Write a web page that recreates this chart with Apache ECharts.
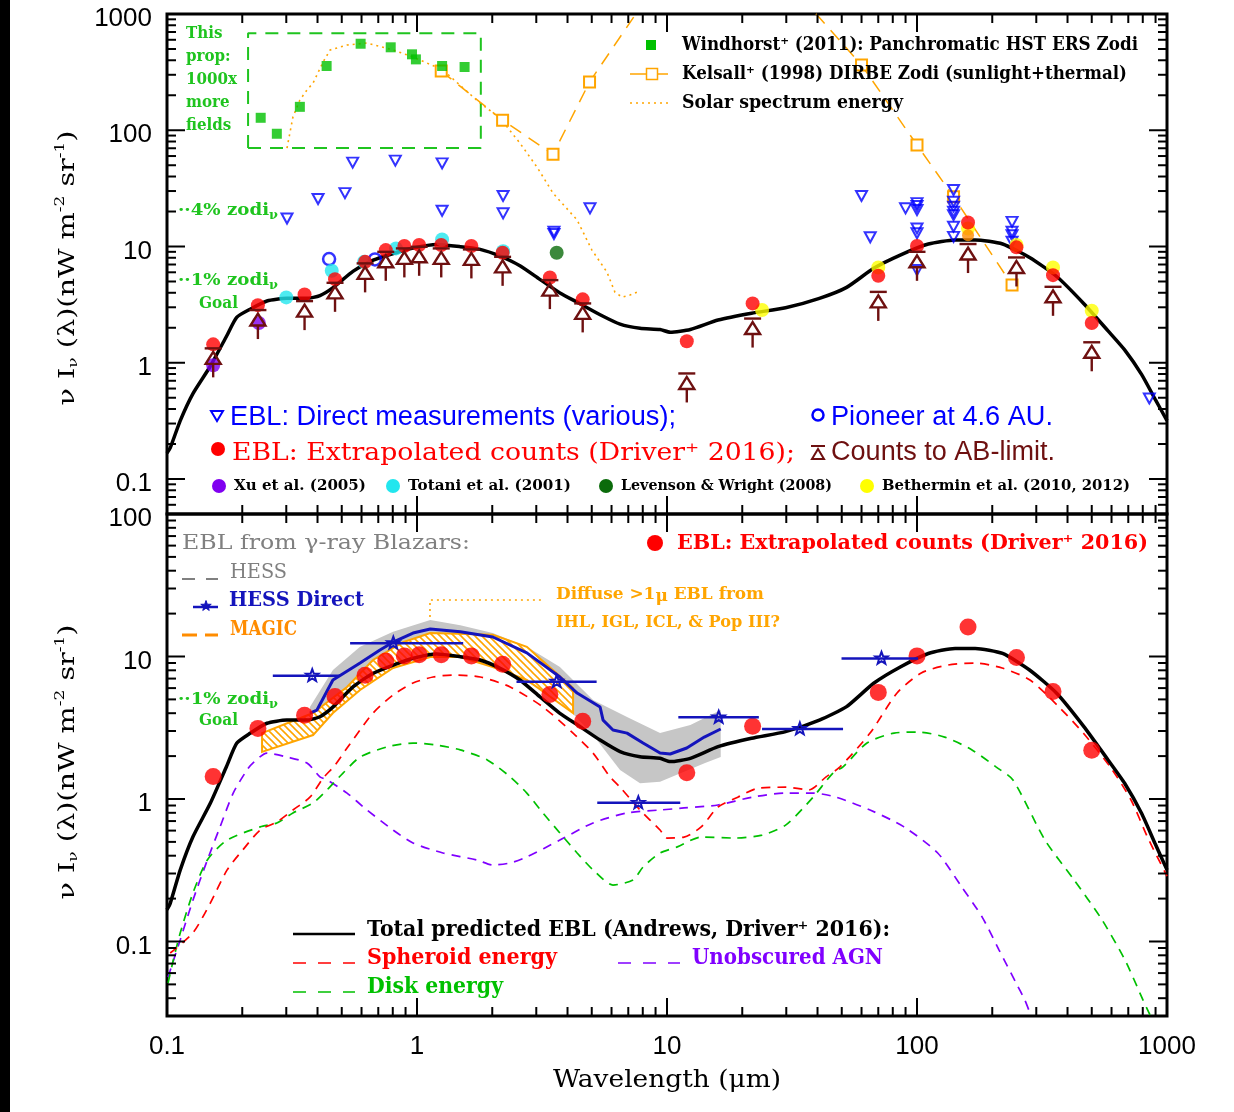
<!DOCTYPE html>
<html>
<head>
<meta charset="utf-8">
<title>EBL</title>
<script src="https://cdn.jsdelivr.net/npm/echarts@6.0.0/dist/echarts.min.js"></script>
<style>
html, body { margin: 0; padding: 0; background: #fff; }
#chart { width: 1234px; height: 1112px; }
</style>
</head>
<body>
<div id="chart"></div>
<script>
// ---------------- top panel ----------------
// Windhorst+ (2011) HST ERS zodi
var windhorstLam = [0.237, 0.275, 0.340, 0.435, 0.595, 0.785, 0.955, 0.99, 1.26, 1.55];
var windhorstVal = [128, 93.3, 159, 357, 555, 517, 450, 407, 357, 350];
// Kelsall+ (1998) DIRBE zodi
var kelsallLam = [1.25, 2.2, 3.5, 4.9, 12, 25, 60, 100, 140, 240];
var kelsallVal = [323, 122, 62.1, 260, 4430, 3020, 364, 74.6, 26.8, 4.66];
// solar spectrum energy
var solarLam = [0.302, 0.319, 0.340, 0.363, 0.384, 0.421, 0.449, 0.525, 0.631, 0.802, 0.964, 1.27, 1.79, 2.15, 2.58, 3.02, 3.50, 4.37, 5.01, 5.75, 6.19, 6.61, 7.11, 7.59];
var solarVal = [70.3, 130, 182, 222, 255, 386, 490, 541, 563, 490, 427, 330, 171, 127, 77.6, 48.2, 28.8, 16.9, 9.31, 6.03, 4.05, 3.67, 3.82, 4.05];
// "this proposal" box corners
var boxLam = [0.211, 0.211, 1.80, 1.80, 0.211];
var boxVal = [70.3, 682, 682, 70.3, 70.3];
// EBL direct measurements (upper limits)
var directLam = [0.302, 0.402, 0.515, 0.553, 0.819, 1.26, 1.26, 2.21, 2.21, 3.53, 3.53, 4.92, 60, 65, 90, 100, 100, 100, 100, 100, 100, 140, 140, 140, 140, 140, 140, 140, 240, 240, 240, 240, 850];
var directVal = [17.4, 25.6, 28.8, 52.7, 54.8, 51.9, 20.3, 27.2, 19.3, 13.4, 12.8, 21.3, 27.2, 12.0, 21.3, 23.6, 22.3, 20.6, 14.3, 13.0, 6.27, 30.6, 24.3, 22.0, 19.9, 18.6, 14.8, 12.1, 16.3, 13.4, 12.5, 11.0, 0.493];
var pioneerLam = [0.445, 0.679];
var pioneerVal = [7.8, 7.74];
var totaniLam = [0.30, 0.456, 0.614, 0.824, 1.26, 2.21];
var totaniVal = [3.65, 6.18, 7.38, 9.63, 11.5, 9.12];
var xuLam = [0.153, 0.233];
var xuVal = [0.953, 2.2];
var levensonLam = [3.62];
var levensonVal = [8.83];
var bethLam = [24, 70, 160, 250, 350, 500];
var bethVal = [2.84, 6.6, 14.3, 10.3, 6.6, 2.8];
var orangeDotLam = [160];
var orangeDotVal = [12.5];
// Driver+ 2016 extrapolated counts, and counts to AB-limit
var driverLam = [0.153, 0.231, 0.355, 0.47, 0.62, 0.75, 0.89, 1.02, 1.25, 1.65, 2.2, 3.4, 4.6, 12, 22, 70, 100, 160, 250, 350, 500];
var driverVal = [1.44, 3.13, 3.87, 5.24, 7.38, 9.31, 10.1, 10.3, 10.3, 10.1, 8.83, 5.42, 3.51, 1.53, 3.24, 5.6, 10.1, 16.1, 9.83, 5.67, 2.2];
var abVal = [1.33, 2.84, 3.39, 4.87, 7.16, 9.0, 9.63, 9.94, 9.63, 9.44, 8.15, 5.14, 3.24, 0.809, 2.40, 4.07, 9.0, 10.5, 8.05, 4.50, 1.50];

// ---------------- model curves (both panels) ----------------
var totalLam = [0.1, 0.103, 0.113, 0.127, 0.149, 0.173, 0.190, 0.215, 0.251, 0.301, 0.362, 0.409, 0.463, 0.556, 0.668, 0.804, 0.966, 1.20, 1.49, 1.79, 2.15, 2.58, 3.10, 3.73, 4.49, 5.40, 6.49, 7.80, 9.38, 10.3, 12.4, 16.0, 21.8, 29.8, 40.7, 52.3, 67.1, 86.1, 111, 142, 171, 220, 282, 362, 465, 581, 677, 791, 895, 1000];
var totalVal = [0.167, 0.185, 0.318, 0.543, 0.933, 1.69, 2.46, 2.89, 3.40, 3.58, 3.58, 3.78, 4.45, 6.14, 7.62, 8.71, 9.71, 10.4, 9.97, 9.45, 8.26, 6.84, 5.22, 3.99, 3.22, 2.59, 2.15, 1.98, 1.93, 1.83, 1.93, 2.33, 2.67, 2.97, 3.58, 4.45, 6.49, 8.48, 10.5, 11.4, 11.4, 10.5, 8.04, 5.52, 3.22, 1.88, 1.29, 0.794, 0.489, 0.318];
var spheroidLam = [0.103, 0.127, 0.149, 0.174, 0.201, 0.236, 0.275, 0.319, 0.373, 0.421, 0.470, 0.525, 0.592, 0.667, 0.802, 0.964, 1.16, 1.39, 1.79, 2.36, 3.19, 4.21, 5.06, 5.92, 6.49, 7.80, 9.38, 10.0, 11.7, 13.7, 16.0, 19.2, 23.1, 29.9, 37.0, 43.3, 49.2, 64.9, 83.2, 104, 133, 171, 219, 283, 363, 466, 597, 718, 839, 1000];
var spheroidVal = [0.083, 0.115, 0.186, 0.318, 0.439, 0.606, 0.690, 0.837, 1.03, 1.40, 1.73, 2.28, 3.05, 4.01, 5.37, 6.52, 7.18, 7.41, 7.18, 6.11, 4.42, 2.90, 2.10, 1.43, 1.21, 0.837, 0.606, 0.532, 0.540, 0.637, 0.879, 1.03, 1.19, 1.21, 1.16, 1.43, 1.68, 2.90, 5.54, 7.66, 8.71, 9.00, 8.30, 6.84, 4.57, 2.86, 1.65, 0.984, 0.532, 0.288];
var diskLam = [0.101, 0.106, 0.113, 0.127, 0.145, 0.174, 0.236, 0.275, 0.319, 0.384, 0.437, 0.506, 0.592, 0.759, 0.964, 1.20, 1.49, 1.91, 2.36, 2.75, 3.19, 3.73, 4.37, 5.06, 6.08, 7.31, 8.02, 9.38, 11.0, 13.7, 18.7, 24.0, 29.9, 38.4, 46.1, 50.6, 63.1, 80.9, 101, 129, 166, 207, 242, 325, 425, 544, 679, 802, 855];
var diskVal = [0.0512, 0.0741, 0.115, 0.219, 0.373, 0.515, 0.637, 0.679, 0.798, 0.938, 1.16, 1.52, 1.97, 2.32, 2.47, 2.39, 2.21, 1.88, 1.43, 1.10, 0.798, 0.577, 0.418, 0.318, 0.249, 0.270, 0.333, 0.418, 0.461, 0.541, 0.532, 0.558, 0.658, 1.03, 1.52, 1.68, 2.47, 2.90, 2.95, 2.72, 2.21, 1.68, 1.36, 0.515, 0.270, 0.146, 0.0741, 0.0388, 0.0305];
var agnLam = [0.101, 0.113, 0.127, 0.145, 0.163, 0.184, 0.209, 0.221, 0.251, 0.302, 0.363, 0.409, 0.437, 0.525, 0.631, 0.802, 0.964, 1.27, 1.74, 2.01, 2.36, 2.75, 3.73, 5.06, 6.92, 9.38, 11.7, 16.0, 21.9, 29.9, 38.4, 47.4, 64.9, 88.7, 121, 151, 182, 213, 249, 270, 283];
var agnVal = [0.0564, 0.103, 0.195, 0.373, 0.637, 1.10, 1.60, 1.79, 2.10, 1.97, 1.79, 1.43, 1.36, 1.10, 0.837, 0.606, 0.491, 0.418, 0.373, 0.344, 0.356, 0.392, 0.515, 0.679, 0.798, 0.837, 0.865, 0.908, 1.03, 1.10, 1.10, 1.03, 0.837, 0.637, 0.418, 0.241, 0.149, 0.0871, 0.0512, 0.0388, 0.0315];

// ---------------- bottom panel: gamma-ray blazar constraints ----------------
var hessHiLam = [0.373, 0.461, 0.592, 0.802, 1.13, 1.49, 2.01, 2.75, 3.73, 5.06, 6.92, 9.38, 12.4, 16.4];
var hessHiVal = [4.42, 8.04, 11.7, 14.9, 18.0, 16.6, 14.6, 11.7, 8.44, 4.95, 3.76, 2.90, 3.30, 4.21];
var hessLoLam = [0.373, 0.461, 0.592, 0.802, 1.13, 1.49, 2.01, 2.75, 3.73, 5.06, 6.49, 7.80, 9.38, 11.7, 14.2, 16.4];
var hessLoVal = [3.47, 4.95, 6.84, 8.71, 10.3, 9.75, 8.44, 6.62, 4.95, 2.81, 1.60, 1.29, 1.32, 1.55, 1.79, 1.97];
var hessLam = [0.373, 0.398, 0.461, 0.592, 0.711, 0.802, 0.964, 1.13, 1.49, 2.01, 2.75, 3.73, 4.37, 5.40, 5.55, 6.08, 6.92, 8.02, 9.38, 10.3, 12.0, 14.1, 16.4];
var hessVal = [4.01, 4.21, 6.84, 9.00, 11.1, 12.6, 14.6, 15.6, 14.9, 13.7, 10.6, 7.18, 5.54, 4.42, 3.58, 3.05, 2.90, 2.47, 2.10, 2.07, 2.28, 2.72, 3.10];
var magicHiLam = [0.240, 0.384, 0.525, 0.667, 0.879, 1.13, 2.01, 2.75, 4.21];
var magicHiVal = [2.90, 4.01, 6.11, 9.45, 12.6, 14.6, 14.2, 11.7, 6.01];
var magicLoLam = [0.240, 0.384, 0.461, 0.592, 0.802, 1.13, 1.49, 2.01, 2.75, 4.21];
var magicLoVal = [2.14, 2.81, 4.01, 5.82, 8.30, 9.92, 9.92, 8.44, 6.84, 4.01];
// HESS direct points with wavelength ranges
var hdLam = [0.381, 0.804, 3.62, 7.68, 16.1, 34.0, 72.1];
var hdVal = [7.33, 12.4, 6.65, 0.94, 3.74, 3.1, 9.7];
var hdLo = [0.265, 0.54, 2.5, 5.26, 11.1, 24, 49.9];
var hdHi = [0.492, 1.53, 5.23, 11.3, 23.3, 50.6, 101];
// dotted pointer for the "Diffuse >1 micron" note
var diffLam = [1.127, 1.127, 3.19];
var diffVal = [18.9, 24.9, 24.9];

var SERIF = '"DejaVu Serif", serif';
var SANS = '"Liberation Sans", Arial, sans-serif';
var GREEN = '#1fc41f';
var ORANGE = '#ffa500';
var MAROON = '#6e1010';
var HBLUE = '#1414bc';

function pairs(a, b) {
    return a.map(function (x, i) { return [x, b[i]]; });
}

var mctx = document.createElement('canvas').getContext('2d');
function textWidth(s, font) {
    mctx.font = font;
    return mctx.measureText(s).width;
}

// text built from pieces [string, size, dy], optionally squeezed to a width
function pieceText(x, y, pieces, color, o) {
    o = o || {};
    var weight = o.weight || 'bold', fam = o.family || SERIF;
    var kids = [], cum = 0;
    pieces.forEach(function (p) {
        var font = weight + ' ' + p[1] + 'px ' + fam;
        kids.push({type: 'text', x: cum, y: p[2] || 0, z: 100, silent: true,
            style: {text: p[0], fill: color, font: font, align: 'left', verticalAlign: 'middle'}});
        cum += textWidth(p[0], font);
    });
    var sx = o.w ? o.w / cum : 1;
    if (o.center) kids.forEach(function (k) { k.x -= cum / 2; });
    return {type: 'group', x: x, y: y, rotation: o.rotation || 0, scaleX: sx, z: 100, children: kids};
}
function txt(x, y, s, color, size, o) {
    return pieceText(x, y, [[s, size, 0]], color, o);
}
function ln(x1, y1, x2, y2, color, w, dash) {
    return {type: 'line', z: 100, silent: true, shape: {x1: x1, y1: y1, x2: x2, y2: y2},
        style: {stroke: color, lineWidth: w, lineDash: dash || null}};
}
function dot(cx, cy, r, color) {
    return {type: 'circle', z: 100, silent: true, shape: {cx: cx, cy: cy, r: r}, style: {fill: color}};
}
function starPts(cx, cy, R, r) {
    var pts = [];
    for (var i = 0; i < 10; i++) {
        var rr = i % 2 ? r : R, a = -Math.PI / 2 + i * Math.PI / 5;
        pts.push([cx + rr * Math.cos(a), cy + rr * Math.sin(a)]);
    }
    return pts;
}
function decade(v) {
    var lg = Math.log10(v), l = Math.round(lg);
    if (Math.abs(lg - l) > 1e-6) return '';
    return l >= 0 ? String(Math.pow(10, l)) : '0.' + '0'.repeat(-l - 1) + '1';
}

function bandSeries(loL, loV, hiL, hiV, style, z) {
    return {
        type: 'custom', xAxisIndex: 1, yAxisIndex: 1, silent: true, z: z,
        data: [[1, 1]],
        renderItem: function (params, api) {
            var pts = [], i;
            for (i = 0; i < loL.length; i++) pts.push(api.coord([loL[i], loV[i]]));
            for (i = hiL.length - 1; i >= 0; i--) pts.push(api.coord([hiL[i], hiV[i]]));
            return {type: 'polygon', shape: {points: pts}, style: style};
        }
    };
}

// orange hatch for the MAGIC band
var hatch = document.createElement('canvas');
hatch.width = 7; hatch.height = 7;
var hc = hatch.getContext('2d');
hc.fillStyle = '#fff';
hc.fillRect(0, 0, 7, 7);
hc.strokeStyle = ORANGE;
hc.lineWidth = 1.6;
[-7, 0, 7].forEach(function (o) {
    hc.beginPath(); hc.moveTo(o - 1, -1); hc.lineTo(o + 8, 8); hc.stroke();
});

function scatter(idx, lam, val, size, style, extra) {
    var s = {type: 'scatter', xAxisIndex: idx, yAxisIndex: idx, data: pairs(lam, val),
        symbolSize: size, itemStyle: style, silent: true, z: 6};
    for (var k in extra) s[k] = extra[k];
    return s;
}
function line(idx, lam, val, lineStyle, z, extra) {
    var s = {type: 'line', xAxisIndex: idx, yAxisIndex: idx, data: pairs(lam, val),
        showSymbol: false, symbol: 'none', lineStyle: lineStyle, silent: true, z: z};
    for (var k in extra) s[k] = extra[k];
    return s;
}

var series = [
    // top panel
    line(0, solarLam, solarVal, {color: ORANGE, width: 1.6, type: [2, 4]}, 3),
    line(0, kelsallLam, kelsallVal, {color: ORANGE, width: 1.5, type: [13, 9]}, 3,
        {showSymbol: true, symbol: 'emptyRect', symbolSize: 11, itemStyle: {color: ORANGE, borderWidth: 1.5}}),
    line(0, boxLam, boxVal, {color: GREEN, width: 2, type: [13, 9]}, 3),
    scatter(0, windhorstLam, windhorstVal, 10, {color: '#00c000'}, {symbol: 'rect', z: 4}),
    line(0, totalLam, totalVal, {color: '#000', width: 3.5}, 5, {smooth: 0.2}),
    scatter(0, directLam, directVal, [11, 10], {color: 'rgba(0,0,0,0)', borderColor: '#0000ff', borderWidth: 2},
        {symbol: 'triangle', symbolRotate: 180}),
    scatter(0, pioneerLam, pioneerVal, 12, {color: 'rgba(0,0,0,0)', borderColor: '#0000ff', borderWidth: 2.5}),
    scatter(0, xuLam, xuVal, 14, {color: '#8000f0'}),
    scatter(0, totaniLam, totaniVal, 14, {color: '#22e6ee'}),
    scatter(0, levensonLam, levensonVal, 14, {color: '#0b6b0b'}),
    scatter(0, bethLam, bethVal, 14, {color: '#ffff00'}),
    scatter(0, orangeDotLam, orangeDotVal, 12, {color: '#ff8c00'}),
    scatter(0, driverLam, driverVal, 14, {color: '#ff0000'}, {z: 7}),
    {
        type: 'custom', xAxisIndex: 0, yAxisIndex: 0, silent: true, z: 8,
        data: pairs(driverLam, abVal),
        renderItem: function (params, api) {
            var p = api.coord([api.value(0), api.value(1)]), st = {stroke: MAROON, lineWidth: 2.4, fill: null};
            return {type: 'group', children: [
                {type: 'line', shape: {x1: p[0] - 8.5, y1: p[1], x2: p[0] + 8.5, y2: p[1]}, style: st},
                {type: 'polygon', shape: {points: [[p[0], p[1] + 3.5], [p[0] - 7.5, p[1] + 15.5], [p[0] + 7.5, p[1] + 15.5]]}, style: st},
                {type: 'line', shape: {x1: p[0], y1: p[1] + 15.5, x2: p[0], y2: p[1] + 29}, style: st}
            ]};
        }
    },
    // bottom panel
    bandSeries(hessLoLam, hessLoVal, hessHiLam, hessHiVal, {fill: '#c6c6c6'}, 1),
    bandSeries(magicLoLam, magicLoVal, magicHiLam, magicHiVal,
        {fill: {image: hatch, repeat: 'repeat'}, stroke: ORANGE, lineWidth: 2}, 2),
    line(1, hessLam, hessVal, {color: HBLUE, width: 3}, 3),
    line(1, diffLam, diffVal, {color: ORANGE, width: 1.6, type: [2, 4]}, 3),
    line(1, agnLam, agnVal, {color: '#8000ff', width: 1.7, type: [9, 7]}, 4, {smooth: 0.25}),
    line(1, diskLam, diskVal, {color: '#00c000', width: 1.7, type: [9, 7]}, 4, {smooth: 0.25}),
    line(1, spheroidLam, spheroidVal, {color: '#ff0000', width: 1.7, type: [9, 7]}, 4, {smooth: 0.25}),
    line(1, totalLam, totalVal, {color: '#000', width: 3.5}, 5, {smooth: 0.2}),
    scatter(1, driverLam, driverVal, 17, {color: '#ff0000'}, {z: 6}),
    {
        type: 'custom', xAxisIndex: 1, yAxisIndex: 1, silent: true, z: 7,
        data: hdLam.map(function (l, i) { return [l, hdVal[i], hdLo[i], hdHi[i]]; }),
        renderItem: function (params, api) {
            var v = api.value(1);
            var c = api.coord([api.value(0), v]), a = api.coord([api.value(2), v]), b = api.coord([api.value(3), v]);
            return {type: 'group', children: [
                {type: 'line', shape: {x1: a[0], y1: a[1], x2: b[0], y2: b[1]}, style: {stroke: HBLUE, lineWidth: 2.5}},
                {type: 'polygon', shape: {points: starPts(c[0], c[1], 6.5, 2.7)}, style: {fill: null, stroke: HBLUE, lineWidth: 2}}
            ]};
        }
    }
];

// ---------------- annotations ----------------
var G = [];
G.push({type: 'rect', z: 100, silent: true, shape: {x: 0, y: 0, width: 10, height: 1112}, style: {fill: '#000'}});

// top panel notes
['This', 'prop:', '1000x', 'more', 'fields'].forEach(function (s, i) {
    G.push(txt(186, 34 + 23 * i, s, GREEN, 17, {w: 51 * textWidth(s, 'bold 17px ' + SERIF) / textWidth('1000x', 'bold 17px ' + SERIF)}));
});
G.push({type: 'rect', z: 100, silent: true, shape: {x: 646, y: 40, width: 10, height: 10}, style: {fill: '#00c000'}});
G.push(txt(682, 45, 'Windhorst⁺ (2011): Panchromatic HST ERS Zodi', '#000', 18, {w: 456}));
G.push(ln(630, 74, 668, 74, ORANGE, 1.5));
G.push({type: 'rect', z: 101, silent: true, shape: {x: 646.5, y: 68.5, width: 11, height: 11}, style: {fill: '#fff', stroke: ORANGE, lineWidth: 1.5}});
G.push(txt(682, 74, 'Kelsall⁺ (1998) DIRBE Zodi (sunlight+thermal)', '#000', 18, {w: 445}));
G.push(ln(630, 103, 668, 103, ORANGE, 1.6, [2, 4]));
G.push(txt(682, 103, 'Solar spectrum energy', '#000', 18, {w: 221}));

G.push(pieceText(178, 211, [['··4% zodi', 17, 0], ['ν', 12, 5]], GREEN, {w: 100}));
G.push(pieceText(178, 281, [['··1% zodi', 17, 0], ['ν', 12, 5]], GREEN, {w: 100}));
G.push(txt(199, 304, 'Goal', GREEN, 17, {w: 39}));

G.push({type: 'polygon', z: 100, silent: true, shape: {points: [[211, 411], [223, 411], [217, 421]]}, style: {fill: null, stroke: '#0000ff', lineWidth: 2}});
G.push(txt(230, 418, 'EBL: Direct measurements (various);', '#0000ff', 27, {family: SANS, weight: 'normal', w: 446}));
G.push({type: 'circle', z: 100, silent: true, shape: {cx: 818, cy: 415, r: 5.5}, style: {fill: null, stroke: '#0000ff', lineWidth: 2.5}});
G.push(txt(831, 418, 'Pioneer at 4.6 AU.', '#0000ff', 27, {family: SANS, weight: 'normal', w: 222}));
G.push(dot(218, 449, 7, '#ff0000'));
G.push(txt(232, 454, 'EBL: Extrapolated counts (Driver⁺ 2016);', '#ff0000', 24, {weight: 'normal', w: 563}));
G.push(ln(811, 446, 825, 446, MAROON, 2));
G.push({type: 'polygon', z: 100, silent: true, shape: {points: [[818, 449], [812, 459], [824, 459]]}, style: {fill: null, stroke: MAROON, lineWidth: 2}});
G.push(txt(831, 453, 'Counts to AB-limit.', MAROON, 27, {family: SANS, weight: 'normal', w: 224}));

G.push(dot(219, 486, 7, '#8000f0'));
G.push(txt(234, 486, 'Xu et al. (2005)', '#000', 15, {w: 132}));
G.push(dot(393, 486, 7, '#22e6ee'));
G.push(txt(408, 486, 'Totani et al. (2001)', '#000', 15, {w: 163}));
G.push(dot(606, 486, 7, '#0b6b0b'));
G.push(txt(621, 486, 'Levenson & Wright (2008)', '#000', 15, {w: 211}));
G.push(dot(867, 486, 7, '#ffff00'));
G.push(txt(882, 486, 'Bethermin et al. (2010, 2012)', '#000', 15, {w: 248}));

// bottom panel notes
G.push(txt(182, 544, 'EBL from γ-ray Blazars:', '#808080', 21, {weight: 'normal', w: 288}));
G.push(ln(182, 579, 195, 579, '#808080', 2));
G.push(ln(206, 579, 218, 579, '#808080', 2));
G.push(txt(230, 573, 'HESS', '#808080', 21, {weight: 'normal', w: 57}));
G.push(ln(193, 607, 218, 607, HBLUE, 2.5));
G.push({type: 'polygon', z: 101, silent: true, shape: {points: starPts(206, 606, 5.5, 2.2)}, style: {fill: HBLUE, stroke: HBLUE, lineWidth: 1}});
G.push(txt(229, 601, 'HESS Direct', HBLUE, 21, {w: 135}));
G.push(ln(182, 635, 197, 635, '#ff8c00', 3));
G.push(ln(205, 635, 218, 635, '#ff8c00', 3));
G.push(txt(230, 630, 'MAGIC', '#ff8c00', 21, {w: 67}));
G.push(dot(655, 543, 8, '#ff0000'));
G.push(txt(677, 544, 'EBL: Extrapolated counts (Driver⁺ 2016)', '#ff0000', 21, {w: 471}));
G.push(pieceText(556, 595, [['Diffuse >1', 17, 0], ['μ', 17, 2], [' EBL from', 17, 0]], ORANGE, {w: 208}));
G.push(txt(556, 623, 'IHL, IGL, ICL, & Pop III?', ORANGE, 17, {w: 224}));
G.push(pieceText(178, 700, [['··1% zodi', 17, 0], ['ν', 12, 5]], GREEN, {w: 100}));
G.push(txt(199, 721, 'Goal', GREEN, 17, {w: 39}));

G.push(ln(293, 934, 355, 934, '#000', 2.5));
G.push(txt(367, 930, 'Total predicted EBL (Andrews, Driver⁺ 2016):', '#000', 22, {w: 523}));
G.push(ln(293, 963, 355, 963, '#ff0000', 1.7, [13, 12]));
G.push(txt(367, 958, 'Spheroid energy', '#ff0000', 22, {w: 190}));
G.push(ln(618, 963, 680, 963, '#8000ff', 1.7, [13, 12]));
G.push(txt(692, 958, 'Unobscured AGN', '#8000ff', 22, {w: 191}));
G.push(ln(293, 992, 355, 992, '#00c000', 1.7, [13, 12]));
G.push(txt(367, 987, 'Disk energy', '#00c000', 22, {w: 136}));

// axis titles
G.push(pieceText(667, 1080, [['Wavelength (', 25, 0], ['μ', 25, 0], ['m)', 25, 0]], '#000', {weight: 'normal', w: 228, center: true}));
var yTitle = [['ν I', 22, 0], ['ν', 13, 6], [' (λ)(nW m', 22, 0], ['-2', 13, -7], [' sr', 22, 0], ['-1', 13, -7], [')', 22, 0]];
G.push(pieceText(68, 268, yTitle, '#000', {weight: 'normal', w: 275, center: true, rotation: Math.PI / 2}));
G.push(pieceText(68, 762, yTitle, '#000', {weight: 'normal', w: 275, center: true, rotation: Math.PI / 2}));

function logAxis(grid, min, max, label, vAlign) {
    var lab = {show: false};
    if (label) {
        lab = {show: true, formatter: decade, fontSize: 26, fontFamily: SANS, color: '#000', margin: label};
        if (vAlign) { lab.verticalAlign = 'top'; lab.lineHeight = 10; }
    }
    return {type: 'log', logBase: 10, gridIndex: grid, min: min, max: max,
        axisLine: {show: false}, axisTick: {show: false}, splitLine: {show: false}, minorTick: {show: false},
        axisLabel: lab};
}

var chart = echarts.init(document.getElementById('chart'), null, {renderer: 'canvas'});
var option = {
    animation: false,
    backgroundColor: '#fff',
    grid: [
        {left: 167, top: 14, width: 1000, height: 500, show: true, borderColor: '#000', borderWidth: 3, containLabel: false, outerBoundsMode: 'none'},
        {left: 167, top: 514, width: 1000, height: 502, show: true, borderColor: '#000', borderWidth: 3, containLabel: false, outerBoundsMode: 'none'}
    ],
    xAxis: [logAxis(0, 0.1, 1000, 0), logAxis(1, 0.1, 1000, 18)],
    yAxis: [logAxis(0, 0.05, 1000, 15, true), logAxis(1, 0.03, 100, 15, true)],
    series: series,
    graphic: {elements: G}
};
chart.setOption(option);

// inward ticks on all four sides (1..9 per decade), placed with the axes' own scales
var ticks = [];
[[0, 0.05, 1000], [1, 0.03, 100]].forEach(function (g) {
    var idx = g[0], d, k, len;
    var x0 = chart.convertToPixel({xAxisIndex: idx}, 0.1), x1 = chart.convertToPixel({xAxisIndex: idx}, 1000);
    var yT = chart.convertToPixel({yAxisIndex: idx}, g[2]), yB = chart.convertToPixel({yAxisIndex: idx}, g[1]);
    for (d = -1; d <= 3; d++) for (k = 1; k <= 9; k++) {
        var lam = k * Math.pow(10, d);
        if (lam < 0.0999 || lam > 1000.1) continue;
        var px = chart.convertToPixel({xAxisIndex: idx}, lam);
        len = k === 1 ? 18 : 9;
        ticks.push(ln(px, yB, px, yB - len, '#000', 2));
        ticks.push(ln(px, yT, px, yT + len, '#000', 2));
    }
    for (d = -2; d <= 3; d++) for (k = 1; k <= 9; k++) {
        var v = k * Math.pow(10, d);
        if (v < g[1] * 0.999 || v > g[2] * 1.001) continue;
        var py = chart.convertToPixel({yAxisIndex: idx}, v);
        len = k === 1 ? 18 : 9;
        ticks.push(ln(x0, py, x0 + len, py, '#000', 2));
        ticks.push(ln(x1, py, x1 - len, py, '#000', 2));
    }
});
chart.setOption({graphic: {elements: G.concat(ticks)}});
</script>
</body>
</html>
